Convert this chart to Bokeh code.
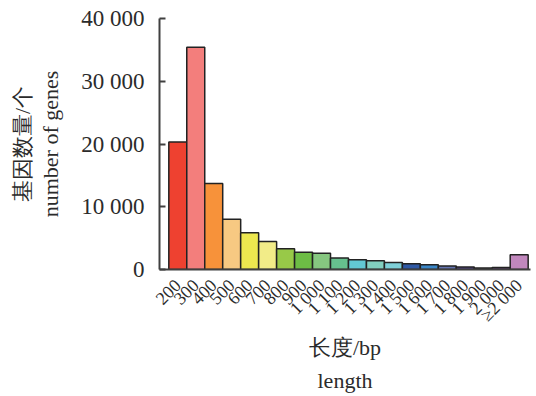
import math
from bokeh.plotting import figure
from bokeh.models import Range1d, FixedTicker, ColumnDataSource
from bokeh.embed import file_html
from bokeh.resources import INLINE

categories = ["200", "300", "400", "500", "600", "700", "800", "900", "1 000", "1 100",
              "1 200", "1 300", "1 400", "1 500", "1 600", "1 700", "1 800", "1 900",
              "2 000", "≥2 000"]
counts = [20300, 35400, 13700, 8000, 5850, 4450, 3300, 2750, 2600, 1850,
          1550, 1400, 1100, 900, 750, 550, 400, 250, 300, 2350]
colors = ["#EE4130", "#F37E7C", "#F7923A", "#F7C982", "#EDE84F", "#F2EC88", "#98C948",
          "#6DBD45", "#86C780", "#66C08E", "#62C8D3", "#82CFBF", "#7FD0D8", "#2F59A5",
          "#3A87C8", "#6474B0", "#574697", "#9C88C0", "#6D3A7E", "#C187BD"]
y_ticks = [0, 10000, 20000, 30000, 40000]
y_tick_labels = ["0", "10 000", "20 000", "30 000", "40 000"]
y_title = "基因数量/个\nnumber of genes"
x_title = "长度/bp\nlength"

idx = list(range(len(categories)))
src = ColumnDataSource(dict(x=idx, top=counts, color=colors))

FONT = "Liberation Serif"
TXT = "#2b2b2b"

p = figure(width=536, height=396, output_backend="svg", toolbar_location=None,
           x_range=Range1d(-1.018, 19.63), y_range=Range1d(0, 40000),
           min_border_left=159, min_border_right=6, min_border_top=18,
           min_border_bottom=127)
p.outline_line_color = None
p.grid.grid_line_color = None
p.background_fill_color = "white"
p.border_fill_color = "white"

p.vbar(x="x", top="top", bottom=0, width=1.0, fill_color="color",
       line_color="#222222", line_width=1.5, source=src)

# y axis
ya = p.yaxis[0]
ya.ticker = FixedTicker(ticks=y_ticks)
ya.major_label_overrides = {t: l for t, l in zip(y_ticks, y_tick_labels)}
ya.major_tick_in = 6
ya.major_tick_out = 0
ya.minor_tick_line_color = None
ya.axis_line_color = "#404040"
ya.axis_line_width = 2
ya.major_tick_line_color = "#404040"
ya.major_tick_line_width = 2
ya.major_label_text_font = FONT
ya.major_label_text_font_size = "23px"
ya.major_label_text_color = TXT
ya.major_label_standoff = 15
ya.axis_label = y_title
ya.axis_label_text_font = FONT
ya.axis_label_text_font_size = "22px"
ya.axis_label_text_font_style = "normal"
ya.axis_label_text_color = TXT
ya.axis_label_text_line_height = 1.15
ya.axis_label_standoff = 15

# x axis
xa = p.xaxis[0]
xa.ticker = FixedTicker(ticks=idx)
xa.major_label_overrides = {i: c for i, c in zip(idx, categories)}
xa.major_tick_line_color = None
xa.major_tick_in = 0
xa.major_tick_out = 0
xa.minor_tick_line_color = None
xa.axis_line_color = "#404040"
xa.axis_line_width = 2
xa.major_label_orientation = math.pi / 4
xa.major_label_text_font = FONT
xa.major_label_text_font_size = "18px"
xa.major_label_text_color = TXT
xa.major_label_standoff = 13
xa.axis_label = x_title
xa.axis_label_text_font = FONT
xa.axis_label_text_font_size = "22px"
xa.axis_label_text_font_style = "normal"
xa.axis_label_text_color = TXT
xa.axis_label_text_line_height = 1.3
xa.axis_label_standoff = 0

open("out.html", "w").write(file_html(p, INLINE))
